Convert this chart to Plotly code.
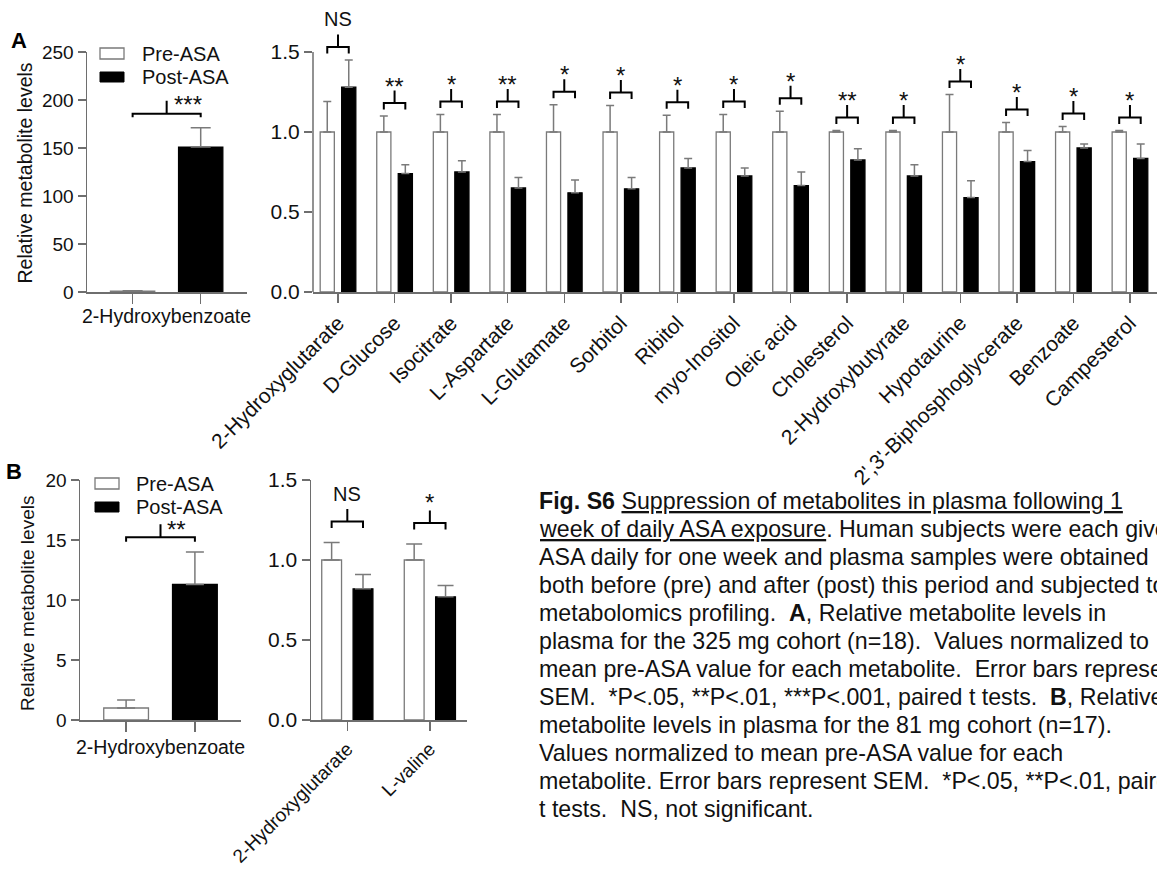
import plotly.graph_objects as go

W, H = 1157, 871

# ---------------- data ----------------
a_left_category = "2-Hydroxybenzoate"
a_left_means = [1.0, 151.0]          # Pre-ASA, Post-ASA
a_left_sem = [0.3, 20.0]
a_left_sig = "***"

a_metabolites = ["2-Hydroxyglutarate", "D-Glucose", "Isocitrate", "L-Aspartate",
                 "L-Glutamate", "Sorbitol", "Ribitol", "myo-Inositol", "Oleic acid",
                 "Cholesterol", "2-Hydroxybutyrate", "Hypotaurine",
                 "2',3'-Biphosphoglycerate", "Benzoate", "Campesterol"]
a_pre = [1.0, 1.0, 1.0, 1.0, 1.0, 1.0, 1.0, 1.0, 1.0, 1.0, 1.0, 1.0, 1.0, 1.0, 1.0]
a_pre_sem = [0.19, 0.10, 0.11, 0.11, 0.17, 0.165, 0.105, 0.11, 0.13, 0.01, 0.01,
             0.235, 0.06, 0.035, 0.01]
a_post = [1.28, 0.74, 0.75, 0.65, 0.62, 0.645, 0.775, 0.725, 0.665, 0.825, 0.725,
          0.59, 0.815, 0.90, 0.835]
a_post_sem = [0.17, 0.055, 0.07, 0.065, 0.08, 0.07, 0.06, 0.05, 0.085, 0.07, 0.07,
              0.105, 0.07, 0.025, 0.09]
a_sig = ["NS", "**", "*", "**", "*", "*", "*", "*", "*", "**", "*", "*", "*", "*", "*"]

b_left_category = "2-Hydroxybenzoate"
b_left_means = [1.0, 11.3]
b_left_sem = [0.67, 2.7]
b_left_sig = "**"

b_metabolites = ["2-Hydroxyglutarate", "L-valine"]
b_pre = [1.0, 1.0]
b_pre_sem = [0.11, 0.10]
b_post = [0.82, 0.77]
b_post_sem = [0.09, 0.07]
b_sig = ["NS", "*"]

a_left_yticks = [0, 50, 100, 150, 200, 250]
a_right_yticks = [0, 0.5, 1.0, 1.5]
b_left_yticks = [0, 5, 10, 15, 20]
b_right_yticks = [0, 0.5, 1.0, 1.5]

legend_labels = ["Pre-ASA", "Post-ASA"]

NB = "\u00a0"
caption_lines = [
    "<b>Fig. S6</b> <u>Suppression of metabolites in plasma following 1</u>",
    "<u>week of daily ASA exposure</u>. Human subjects were each given",
    "ASA daily for one week and plasma samples were obtained",
    "both before (pre) and after (post) this period and subjected to",
    "metabolomics profiling." + NB + " <b>A</b>, Relative metabolite levels in",
    "plasma for the 325 mg cohort (n=18)." + NB + " Values normalized to",
    "mean pre-ASA value for each metabolite." + NB + " Error bars represent",
    "SEM." + NB + " *P&lt;.05, **P&lt;.01, ***P&lt;.001, paired t tests." + NB + " <b>B</b>, Relative",
    "metabolite levels in plasma for the 81 mg cohort (n=17).",
    "Values normalized to mean pre-ASA value for each",
    "metabolite. Error bars represent SEM." + NB + " *P&lt;.05, **P&lt;.01, paired",
    "t tests." + NB + " NS, not significant.",
]

# ---------------- style ----------------
FONT = "Liberation Sans, Arial, Helvetica, sans-serif"
TXT = "#111111"
AX = "#6e6e6e"
PRE_LINE = "#7a7a7a"
ERR = "#7a7a7a"


def fx(p):
    return p / W


def fy(p):
    return 1 - p / H


fig = go.Figure()

# panel geometry (pixels) and ranges
P = {
    "AL": dict(xd=(87, 247), yd=(52, 292), xr=[-0.67, 1.68], yr=[0, 250]),
    "AR": dict(xd=(313, 1157), yd=(0, 292), xr=[-0.442, 14.478], yr=[0, 292 / 160]),
    "BL": dict(xd=(80, 241), yd=(480, 720), xr=[-0.67, 1.67], yr=[0, 20]),
    "BR": dict(xd=(311, 467), yd=(480, 720), xr=[-0.44, 1.45], yr=[0, 1.5]),
}
IDS = {"AL": ("x", "y"), "AR": ("x2", "y2"), "BL": ("x3", "y3"), "BR": ("x4", "y4")}


def upp(key):
    p = P[key]
    return (p["yr"][1] - p["yr"][0]) / (p["yd"][1] - p["yd"][0])


def err(sem, w):
    return dict(type="data", array=sem, arrayminus=[0] * len(sem), symmetric=False,
                color=ERR, thickness=1.5, width=w)


pre_marker = dict(color="white", line=dict(color=PRE_LINE, width=1.3))
post_marker = dict(color="black", line=dict(color="black", width=1.3))

# ---- left panels (single metabolite, bars at 0 and 1)
for key, means, sem, ew in [("AL", a_left_means, a_left_sem, 10),
                            ("BL", b_left_means, b_left_sem, 9)]:
    xa, ya = IDS[key]
    fig.add_trace(go.Bar(x=[0], y=[means[0]], width=0.65, marker=pre_marker,
                         error_y=err([sem[0]], ew), xaxis=xa, yaxis=ya, name=legend_labels[0]))
    fig.add_trace(go.Bar(x=[1], y=[means[1]], width=0.65, marker=post_marker,
                         error_y=err([sem[1]], ew), xaxis=xa, yaxis=ya, name=legend_labels[1]))

# ---- right panels (categorical groups)
OFF = 0.19
for key, cats, pre, pre_sem, post, post_sem, bw, ew in [
        ("AR", a_metabolites, a_pre, a_pre_sem, a_post, a_post_sem, 0.25, 4),
        ("BR", b_metabolites, b_pre, b_pre_sem, b_post, b_post_sem, 0.24, 8)]:
    xa, ya = IDS[key]
    fig.add_trace(go.Bar(x=cats, y=pre, width=bw, offset=-OFF - bw / 2, marker=pre_marker,
                         error_y=err(pre_sem, ew), xaxis=xa, yaxis=ya, name=legend_labels[0]))
    fig.add_trace(go.Bar(x=cats, y=post, width=bw, offset=OFF - bw / 2, marker=post_marker,
                         error_y=err(post_sem, ew), xaxis=xa, yaxis=ya, name=legend_labels[1]))

shapes = []
annotations = []


def bracket(key, x0, x1, top, gap_px, leg_px, stem_px):
    xa, ya = IDS[key]
    u = upp(key)
    yb = top + gap_px * u
    yl = yb - leg_px * u
    ys = yb + stem_px * u
    xm = (x0 + x1) / 2
    path = (f"M{x0},{yl} L{x0},{yb} L{x1},{yb} L{x1},{yl} "
            f"M{xm},{yb} L{xm},{ys}")
    shapes.append(dict(type="path", path=path, xref=xa, yref=ya,
                       line=dict(color="black", width=2)))
    return xm, ys


def sig_text(key, x, y, text, size, xanchor="center", xshift=0, yshift=0):
    xa, ya = IDS[key]
    annotations.append(dict(x=x, y=y, xref=xa, yref=ya, text=text, showarrow=False,
                            xanchor=xanchor, yanchor="middle", xshift=xshift, yshift=yshift,
                            font=dict(family=FONT, size=size, color=TXT)))


STAR = 24
# left-panel brackets
xm, ys = bracket("AL", 0, 1, max(m + s for m, s in zip(a_left_means, a_left_sem)), 14, 3.5, 13)
sig_text("AL", xm, ys, a_left_sig, STAR, xanchor="left", xshift=5, yshift=-4)
xm, ys = bracket("BL", 0, 1, max(m + s for m, s in zip(b_left_means, b_left_sem)), 14.7, 4.4, 13)
sig_text("BL", xm, ys, b_left_sig, STAR, xanchor="left", xshift=4, yshift=-5)

# right-panel brackets
for i, s in enumerate(a_sig):
    top = max(a_pre[i] + a_pre_sem[i], a_post[i] + a_post_sem[i])
    xm, ys = bracket("AR", i - OFF, i + OFF, top, 13, 6.5, 12.5)
    if s == "NS":
        sig_text("AR", xm, ys, s, 20, yshift=16)
    else:
        sig_text("AR", xm, ys, s, STAR, yshift=4.5)
for i, s in enumerate(b_sig):
    top = max(b_pre[i] + b_pre_sem[i], b_post[i] + b_post_sem[i])
    xm, ys = bracket("BR", i - OFF, i + OFF, top, 21, 6.5, 12.5)
    if s == "NS":
        sig_text("BR", xm, ys, s, 20, yshift=14.5)
    else:
        sig_text("BR", xm, ys, s, STAR, yshift=7.5)

# y axis line for A-right (axis range extends above 1.5 for the brackets)
shapes.append(dict(type="line", xref="x2 domain", yref="y2", x0=0, x1=0,
                   y0=0, y1=a_right_yticks[-1], line=dict(color=AX, width=1.5)))

# x labels of the single-metabolite panels
for key, label, ypx in [("AL", a_left_category, 316), ("BL", b_left_category, 747)]:
    xa, _ = IDS[key]
    annotations.append(dict(x=0.5, y=fy(ypx), xref=xa, yref="paper", text=label,
                            showarrow=False, xanchor="center", yanchor="middle",
                            font=dict(family=FONT, size=19.5, color=TXT)))

# legends
for (bx, by0, by1, tx, ty0, ty1) in [(100, (48, 59), (72, 82), 140, 54, 77),
                                     (95, (478, 489), (502, 512), 134, 483.5, 507.5)]:
    shapes.append(dict(type="rect", xref="paper", yref="paper", x0=fx(bx), x1=fx(bx + 24),
                       y0=fy(by0[1]), y1=fy(by0[0]), fillcolor="white",
                       line=dict(color=PRE_LINE, width=1.3)))
    shapes.append(dict(type="rect", xref="paper", yref="paper", x0=fx(bx), x1=fx(bx + 24),
                       y0=fy(by1[1]), y1=fy(by1[0]), fillcolor="black",
                       line=dict(color="black", width=1)))
    for lab, ty in zip(legend_labels, (ty0, ty1)):
        annotations.append(dict(x=fx(tx), y=fy(ty), xref="paper", yref="paper", text=lab,
                                showarrow=False, xanchor="left", yanchor="middle",
                                font=dict(family=FONT, size=20, color=TXT)))

# y axis titles
for xp, yp, size in [(24.5, 173, 19.5), (27, 604, 19)]:
    annotations.append(dict(x=fx(xp), y=fy(yp), xref="paper", yref="paper",
                            text="Relative metabolite levels", textangle=-90, showarrow=False,
                            xanchor="center", yanchor="middle",
                            font=dict(family=FONT, size=size, color=TXT)))

# panel letters
for letter, xp, yp in [("A", 18.5, 40), ("B", 13.5, 471.5)]:
    annotations.append(dict(x=fx(xp), y=fy(yp), xref="paper", yref="paper",
                            text=f"<b>{letter}</b>", showarrow=False,
                            xanchor="center", yanchor="middle",
                            font=dict(family=FONT, size=22, color="black")))

# caption (the reference page is cropped at its right edge)
for i, line in enumerate(caption_lines):
    annotations.append(dict(x=fx(537), y=fy(500.5 + 28 * i), xref="paper", yref="paper",
                            text=line, showarrow=False, xanchor="left", yanchor="middle",
                            align="left", font=dict(family=FONT, size=23.2, color=TXT)))


def xaxis(key, **kw):
    p = P[key]
    d = dict(domain=[fx(p["xd"][0]), fx(p["xd"][1])], range=p["xr"], showgrid=False,
             zeroline=False, showline=True, linecolor=AX, linewidth=1.5,
             ticks="outside", ticklen=10, tickwidth=1.5, tickcolor=AX,
             anchor=IDS[key][1], fixedrange=True)
    d.update(kw)
    return d


def yaxis(key, tickvals, fmt, size, **kw):
    p = P[key]
    d = dict(domain=[fy(p["yd"][1]), fy(p["yd"][0])], range=p["yr"], showgrid=False,
             zeroline=False, showline=True, linecolor=AX, linewidth=1.5,
             ticks="outside", ticklen=8, tickwidth=1.5, tickcolor=AX,
             tickvals=tickvals, ticktext=[fmt.format(v) for v in tickvals],
             tickfont=dict(family=FONT, size=size, color=TXT),
             anchor=IDS[key][0], fixedrange=True)
    d.update(kw)
    return d


fig.update_layout(
    width=W, height=H, margin=dict(l=0, r=0, t=0, b=0),
    template="none", paper_bgcolor="white", plot_bgcolor="rgba(0,0,0,0)",
    showlegend=False, barmode="overlay",
    font=dict(family=FONT, color=TXT),
    xaxis=xaxis("AL", tickvals=[0, 1], ticktext=["", ""]),
    yaxis=yaxis("AL", a_left_yticks, "{:d}", 19),
    xaxis2=xaxis("AR", type="category", tickangle=-45, ticklen=9,
                 tickfont=dict(family=FONT, size=21, color=TXT)),
    yaxis2=yaxis("AR", a_right_yticks, "{:.1f}", 21, showline=False),
    xaxis3=xaxis("BL", tickvals=[0, 1], ticktext=["", ""]),
    yaxis3=yaxis("BL", b_left_yticks, "{:d}", 19),
    xaxis4=xaxis("BR", type="category", tickangle=-45, ticklen=9,
                 tickfont=dict(family=FONT, size=19, color=TXT)),
    yaxis4=yaxis("BR", b_right_yticks, "{:.1f}", 21),
    shapes=shapes,
    annotations=annotations,
)

fig.write_html("out.html", config={"displayModeBar": False, "staticPlot": True},
               post_script="document.body.style.margin='0';document.body.style.overflow='hidden';")
